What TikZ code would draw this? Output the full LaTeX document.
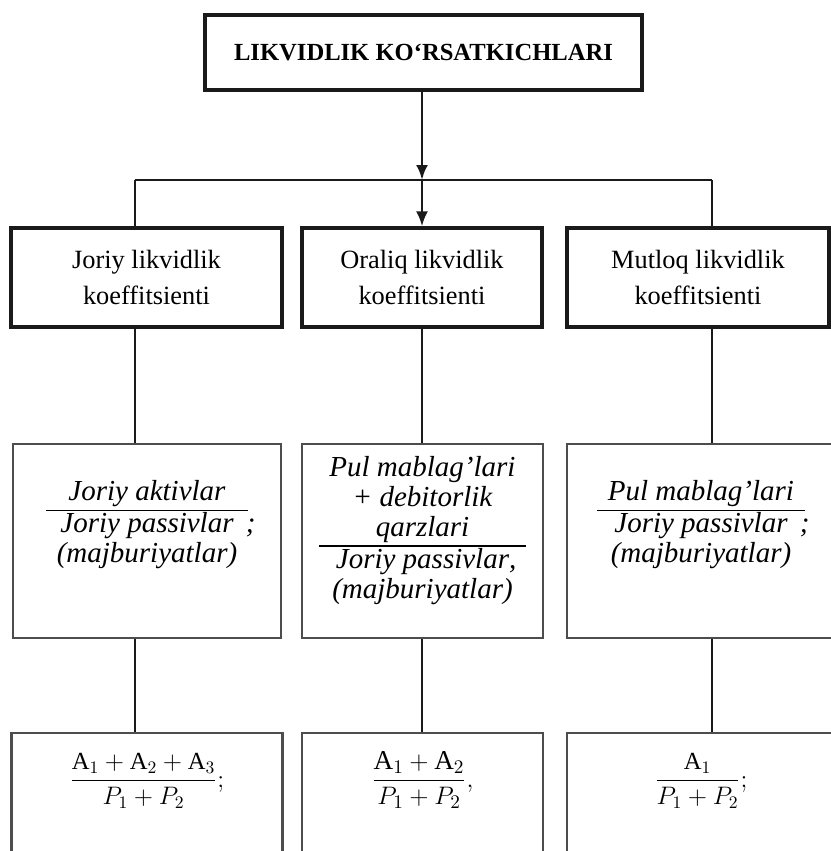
\documentclass[tikz,border=0pt]{standalone}
\usepackage{amsmath}
\usepackage{fontspec}
\setmainfont{Liberation Serif}
\usepackage{tikz}
\usetikzlibrary{arrows.meta, positioning}
\definecolor{LK_INK}{HTML}{1a1a1a}
\definecolor{LK_GREY}{HTML}{4d4d4d}
\setlength{\arrayrulewidth}{1pt}
\tikzset{
  head/.style={
    rectangle, draw=LK_INK, line width=2.4pt,
    minimum width=8.74cm, minimum height=1.5cm,
    text centered, align=center,
    font=\fontsize{14}{16}\selectfont\bfseries},
  koef/.style={
    rectangle, draw=LK_INK, line width=1.8pt,
    minimum height=1.98cm,
    text centered, align=center,
    font=\fontsize{15}{21}\selectfont},
  ratio/.style={
    rectangle, draw=LK_GREY, line width=1.2pt,
    inner ysep=0pt, text height=1.78cm, text depth=2.1cm,
    font=\fontsize{16.5}{17}\selectfont\itshape},
  formula/.style={
    rectangle, draw=LK_GREY, line width=1.2pt,
    inner ysep=0pt, text height=1.08cm, text depth=1.66cm,
    font=\fontsize{14}{17}\selectfont},
  arr/.style={-{Latex[length=3mm,width=2.4mm]}, line width=1.6pt, color=LK_INK},
  link/.style={line width=1.6pt, color=LK_INK},
}

\begin{document}
\begin{tikzpicture}
  \useasboundingbox (0,0) rectangle (16.62,-17.02);

  % top
  \node[head] (top) at (8.47,-1.05) {LIKVIDLIK KO‘RSATKICHLARI};

  % row 1
  \node[koef, minimum width=5.42cm] (j1) at (2.93,-5.55)
    {Joriy likvidlik\\koeffitsienti};
  \node[koef, minimum width=4.8cm] (o1) at (8.44,-5.55)
    {Oraliq likvidlik\\koeffitsienti};
  \node[koef, minimum width=5.24cm] (m1) at (13.96,-5.55)
    {Mutloq likvidlik\\koeffitsienti};

  % row 2
  \node[ratio, minimum width=5.36cm] (j2) at (2.94,-10.82)
    {\begin{tabular}{c}
       Joriy aktivlar\\ \hline
       Joriy passivlar\rlap{\hspace{7pt};}\\
       (majburiyatlar)
     \end{tabular}};
  \node[ratio, minimum width=4.82cm, text height=1.9cm, text depth=1.98cm] (o2) at (8.45,-10.82)
    {\begin{tabular}{c}
       Pul mablag’lari\\
       + debitorlik\\
       qarzlari\\ \hline
       Joriy passivlar\rlap{,}\\
       (majburiyatlar)
     \end{tabular}};
  \node[ratio, minimum width=5.36cm] (m2) at (14.02,-10.82)
    {\begin{tabular}{c}
       Pul mablag’lari\\ \hline
       Joriy passivlar\rlap{\hspace{7pt};}\\
       (majburiyatlar)
     \end{tabular}};

  % row 3
  \node[formula, minimum width=5.42cm] (j3) at (2.94,-16.03)
    {$\dfrac{\mathrm{A}_1+\mathrm{A}_2+\mathrm{A}_3}{P_1+P_2};$};
  \node[formula, minimum width=4.82cm, font=\fontsize{15.5}{17}\selectfont] (o3) at (8.45,-16.03)
    {$\dfrac{\mathrm{A}_1+\mathrm{A}_2}{P_1+P_2},$};
  \node[formula, minimum width=5.36cm] (m3) at (14.02,-16.03)
    {$\dfrac{\mathrm{A}_1}{P_1+P_2};$};

  % connectors
  \coordinate (hub) at (8.44,-3.6);
  \coordinate (bl) at (2.7,-3.6);
  \coordinate (br) at (14.24,-3.6);

  \draw[arr] (top.south -| hub) -- (hub);
  \draw[link] (bl) -- (br);
  \draw[link] (bl) -- (bl |- j1.north);
  \draw[arr] (hub) -- (o1.north -| hub);
  \draw[link] (br) -- (br |- m1.north);

  \draw[link] (j1.south -| bl) -- (j2.north -| bl);
  \draw[link] (o1.south -| hub) -- (o2.north -| hub);
  \draw[link] (m1.south -| br) -- (m2.north -| br);

  \draw[link] (j2.south -| bl) -- (j3.north -| bl);
  \draw[link] (o2.south -| hub) -- (o3.north -| hub);
  \draw[link] (m2.south -| br) -- (m3.north -| br);

\end{tikzpicture}
\end{document}
